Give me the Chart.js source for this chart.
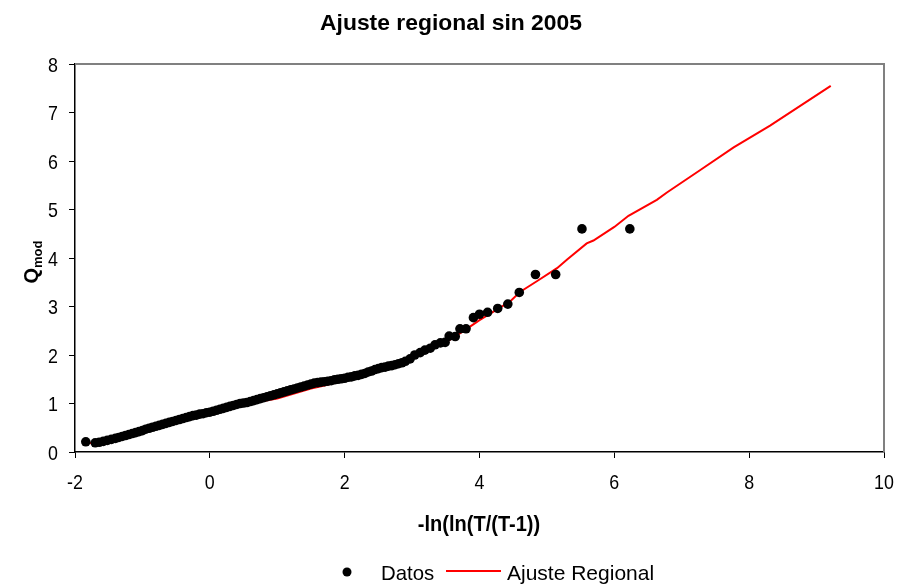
<!DOCTYPE html>
<html>
<head>
<meta charset="utf-8">
<script src="https://cdn.jsdelivr.net/npm/chart.js@4/dist/chart.umd.min.js"></script>
<style>
  html, body { margin: 0; padding: 0; background: #fff; }
  #wrap { width: 902px; height: 586px; position: relative; }
</style>
</head>
<body>
<div id="wrap"><canvas id="c" width="902" height="586"></canvas></div>
<script>
// Observed regional quantiles (Gumbel reduced variate vs Q_mod)
const datosX = [-1.84,-1.70,-1.64,-1.58,-1.52,-1.46,-1.40,-1.35,-1.30,-1.25,-1.20,-1.15,-1.10,-1.05,-1.00,
  -0.95,-0.90,-0.85,-0.80,-0.75,-0.70,-0.65,-0.60,-0.55,-0.50,-0.45,-0.40,-0.35,-0.30,-0.25,-0.20,-0.15,-0.10,-0.05,
  0.00,0.05,0.10,0.15,0.20,0.25,0.30,0.35,0.40,0.45,0.50,0.55,0.60,0.65,0.70,0.75,0.80,0.85,0.90,0.95,
  1.00,1.05,1.10,1.15,1.20,1.25,1.30,1.35,1.40,1.45,1.50,1.55,1.60,1.65,1.70,1.75,1.80,1.85,1.90,1.95,
  2.00,2.05,2.10,2.15,2.20,2.25,2.30,2.35,2.40,2.45,2.50,2.55,2.60,2.65,2.70,2.75,2.80,2.85,2.90,2.97,
  3.04,3.12,3.19,3.27,3.34,3.42,3.49,3.55,3.64,3.71,3.80,3.91,4.00,4.12,4.27,4.42,4.59,4.83,5.13,5.52,6.23];
const datosY = [0.21,0.19,0.20,0.22,0.24,0.26,0.28,0.30,0.32,0.34,0.36,0.38,0.40,0.42,0.44,
  0.47,0.49,0.51,0.53,0.55,0.57,0.59,0.61,0.63,0.65,0.67,0.69,0.71,0.73,0.75,0.76,0.78,0.79,0.81,
  0.82,0.84,0.86,0.88,0.90,0.92,0.94,0.96,0.98,1.00,1.01,1.02,1.04,1.06,1.08,1.10,1.12,1.14,1.16,1.18,
  1.20,1.22,1.24,1.26,1.28,1.30,1.32,1.34,1.36,1.38,1.40,1.42,1.43,1.44,1.45,1.46,1.47,1.49,1.50,1.51,
  1.52,1.54,1.55,1.57,1.58,1.60,1.62,1.65,1.67,1.70,1.72,1.74,1.75,1.77,1.78,1.80,1.82,1.84,1.87,1.92,
  2.00,2.05,2.10,2.14,2.21,2.25,2.26,2.39,2.38,2.54,2.54,2.77,2.84,2.88,2.96,3.05,3.29,3.66,3.66,4.60,4.60];

// Fitted regional growth curve
const ajusteX = [-1.85,-1.50,-1.00,-0.50,0.00,0.50,1.00,1.50,1.70,2.00,2.50,3.00,3.50,3.80,4.00,4.45,4.60,4.85,
  5.15,5.30,5.59,5.69,6.00,6.21,6.63,6.78,7.27,7.77,8.31,9.21];
const ajusteY = [0.17,0.24,0.42,0.63,0.80,0.98,1.10,1.31,1.37,1.48,1.70,1.93,2.26,2.53,2.72,3.10,3.30,3.52,
  3.79,3.97,4.30,4.36,4.64,4.87,5.20,5.35,5.81,6.28,6.73,7.55];

const xTicks = [-2, 0, 2, 4, 6, 8, 10];
const yTicks = [0, 1, 2, 3, 4, 5, 6, 7, 8];

const titulo = 'Ajuste regional sin 2005';
const tituloX = '-ln(ln(T/(T-1))';
const serieDatos = 'Datos';
const serieAjuste = 'Ajuste Regional';

const FONT = '"Liberation Sans", Arial, sans-serif';

const datos = datosX.map((x, i) => ({ x, y: datosY[i] }));
const ajuste = ajusteX.map((x, i) => ({ x, y: ajusteY[i] }));

// text drawn slightly narrowed horizontally, like the condensed labels of the original sheet
function narrowText(ctx, txt, x, y, font, sx, align) {
  ctx.save();
  ctx.font = font;
  const w = ctx.measureText(txt).width * sx;
  let left = x;
  if (align === 'center') left = x - w / 2;
  else if (align === 'right') left = x - w;
  ctx.translate(left, y);
  ctx.scale(sx, 1);
  ctx.textAlign = 'left';
  ctx.fillText(txt, 0, 0);
  ctx.restore();
}

// Title, tick labels, axis titles, legend and the grey frame
const decor = {
  id: 'decor',
  afterDraw(chart) {
    const ctx = chart.ctx;
    const a = chart.chartArea;
    const sx = chart.scales.x, sy = chart.scales.y;
    ctx.save();
    // grey frame on top and right
    ctx.strokeStyle = '#808080';
    ctx.lineWidth = 2;
    ctx.beginPath();
    ctx.moveTo(a.left, a.top);
    ctx.lineTo(a.right, a.top);
    ctx.lineTo(a.right, a.bottom);
    ctx.stroke();

    ctx.fillStyle = '#000';
    ctx.textBaseline = 'alphabetic';

    // tick labels
    const tickFont = '21px ' + FONT;
    xTicks.forEach(v => {
      narrowText(ctx, String(v), sx.getPixelForValue(v), 489, tickFont, 0.85, 'center');
    });
    yTicks.forEach(v => {
      narrowText(ctx, String(v), 58, sy.getPixelForValue(v) + 7.5, tickFont, 0.85, 'right');
    });

    // chart title
    narrowText(ctx, titulo, 451, 30, 'bold 22px ' + FONT, 1.04, 'center');

    // x axis title
    narrowText(ctx, tituloX, 479, 531, 'bold 22px ' + FONT, 0.91, 'center');

    // y axis title Q with subscript "mod"
    ctx.save();
    ctx.translate(38, 254);
    ctx.rotate(-Math.PI / 2);
    ctx.textAlign = 'left';
    ctx.font = 'bold 20px ' + FONT;
    const qW = ctx.measureText('Q').width;
    ctx.font = 'bold 13px ' + FONT;
    const mW = ctx.measureText('mod').width;
    const start = -(qW + mW) / 2 - 8;
    ctx.font = 'bold 20px ' + FONT;
    ctx.fillText('Q', start, 0);
    ctx.font = 'bold 13px ' + FONT;
    ctx.fillText('mod', start + qW, 4);
    ctx.restore();

    // legend
    ctx.beginPath();
    ctx.arc(347, 572, 4.5, 0, Math.PI * 2);
    ctx.fill();
    narrowText(ctx, serieDatos, 381, 580, '21px ' + FONT, 0.97, 'left');
    ctx.strokeStyle = '#ff0000';
    ctx.lineWidth = 2;
    ctx.beginPath();
    ctx.moveTo(446, 571);
    ctx.lineTo(501, 571);
    ctx.stroke();
    ctx.fillStyle = '#000';
    narrowText(ctx, serieAjuste, 507, 580, '21px ' + FONT, 1.0, 'left');
    ctx.restore();
  }
};

new Chart(document.getElementById('c'), {
  type: 'scatter',
  data: {
    datasets: [
      {
        label: serieDatos,
        data: datos,
        backgroundColor: '#000',
        borderColor: '#000',
        pointRadius: 4.8,
        pointHoverRadius: 4.8,
        borderWidth: 0,
        order: 0
      },
      {
        label: serieAjuste,
        data: ajuste,
        showLine: true,
        borderColor: '#ff0000',
        backgroundColor: '#ff0000',
        borderWidth: 2,
        pointRadius: 0,
        tension: 0,
        order: 1
      }
    ]
  },
  options: {
    responsive: false,
    animation: false,
    events: [],
    layout: { padding: { top: 64, right: 18, left: 0, bottom: 0 } },
    plugins: {
      legend: { display: false },
      title: { display: false },
      tooltip: { enabled: false }
    },
    scales: {
      x: {
        type: 'linear',
        min: -2, max: 10,
        afterBuildTicks: s => { s.ticks = xTicks.map(v => ({ value: v })); },
        afterFit: s => { s.height = 134; },
        grid: { drawOnChartArea: false, drawTicks: true, tickLength: 6, color: '#000', lineWidth: 1 },
        border: { display: true, color: '#000', width: 1.5 },
        ticks: { display: false }
      },
      y: {
        type: 'linear',
        min: 0, max: 8,
        afterBuildTicks: s => { s.ticks = yTicks.map(v => ({ value: v })); },
        afterFit: s => { s.width = 75; },
        grid: { drawOnChartArea: false, drawTicks: true, tickLength: 6, color: '#000', lineWidth: 1 },
        border: { display: true, color: '#000', width: 1.5 },
        ticks: { display: false }
      }
    }
  },
  plugins: [decor]
});
</script>
</body>
</html>
